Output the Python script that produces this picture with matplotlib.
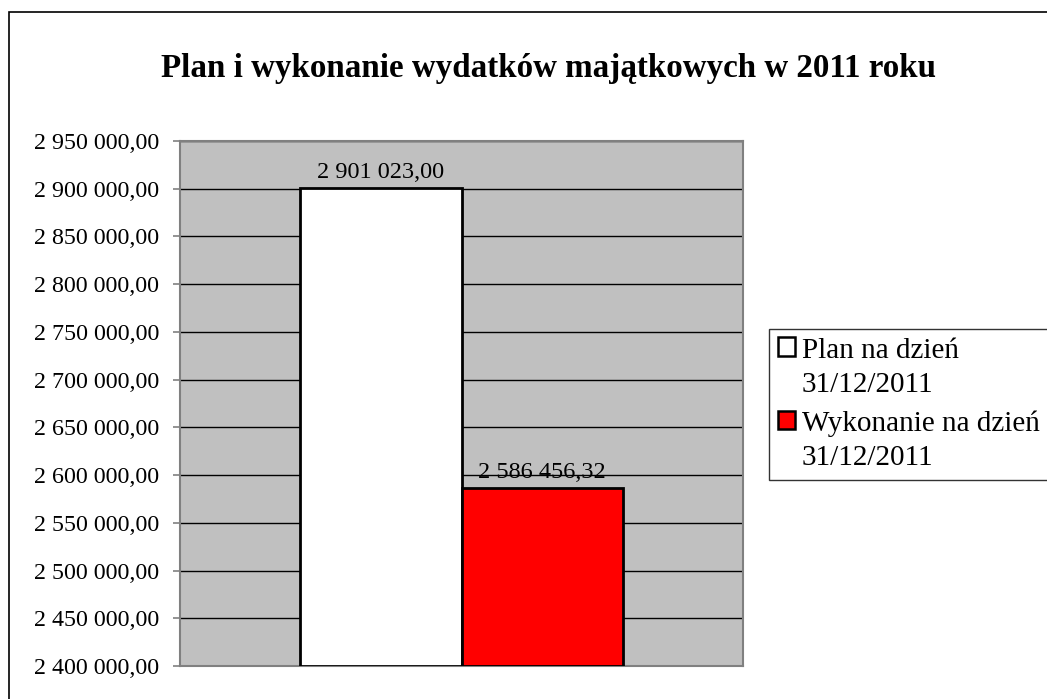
import matplotlib
matplotlib.use("Agg")
import matplotlib.pyplot as plt
from matplotlib.patches import Rectangle, Patch
from matplotlib.legend_handler import HandlerPatch

title = "Plan i wykonanie wydatków majątkowych w 2011 roku"
series_names = ["Plan na dzień\n31/12/2011", "Wykonanie na dzień\n31/12/2011"]
values = [2901023.00, 2586456.32]
colors = ["#FFFFFF", "#FF0000"]
yticks = [2400000 + 50000 * i for i in range(12)]
ymin, ymax = 2400000, 2950000

def fmt(v):
    s = f"{v:,.2f}"
    return s.replace(",", " ").replace(".", ",")

plt.rcParams['font.family'] = ['Liberation Serif', 'DejaVu Serif']

W, H = 1047, 699
fig = plt.figure(figsize=(W / 100, H / 100), dpi=100)
fig.patch.set_facecolor("white")

# outer border
fig.patches.append(Rectangle((9 / W, -0.1), 1.2, 1 - 12 / H + 0.1,
                             transform=fig.transFigure, fill=False,
                             edgecolor="black", linewidth=1.2))

ax = fig.add_axes([180 / W, (H - 666) / H, 563 / W, 525 / H])
ax.set_facecolor("#C0C0C0")
ax.set_xlim(-0.5, 0.5)
ax.set_ylim(ymin, ymax)

bw = 0.286
xs = [-bw / 2, bw / 2]
for x, v, c, n in zip(xs, values, colors, series_names):
    ax.bar(x, v - ymin, bottom=ymin, width=bw, color=c, edgecolor="black",
           linewidth=2, zorder=3, label=n)
    ax.annotate(fmt(v), (x, v), xytext=(0, 7), textcoords="offset points",
                ha="center", va="baseline", fontsize=17.5, zorder=4)

ax.set_yticks(yticks)
ax.set_yticklabels([fmt(t) for t in yticks], fontsize=17.3)
ax.set_xticks([])
ax.yaxis.grid(True, color="black", linewidth=1)
ax.set_axisbelow(True)
for s in ax.spines.values():
    s.set_color("#808080")
    s.set_linewidth(1.5)
ax.tick_params(axis="y", length=5, width=1.2, color="#808080", pad=10)

fig.text(0.5 * (160 + 937) / W, 1 - 68 / H, title, ha="center", va="center",
         fontsize=23.8, fontweight="bold")


class TopPatchHandler(HandlerPatch):
    def create_artists(self, legend, orig_handle, xdescent, ydescent,
                       width, height, fontsize, trans):
        shift = fontsize * 0.72
        p = Rectangle((-xdescent, -ydescent + shift), width, height,
                      facecolor=orig_handle.get_facecolor(),
                      edgecolor="black", linewidth=1.8, transform=trans)
        return [p]


handles = [Patch(facecolor=c, edgecolor="black", linewidth=1.5) for c in colors]
leg = fig.legend(handles, series_names, loc="upper left",
                 bbox_to_anchor=(769 / W, 1 - 329 / H), fontsize=21,
                 frameon=True, fancybox=False, edgecolor="black",
                 handlelength=0.58, handleheight=0.58, handletextpad=0.25,
                 borderpad=0.3, labelspacing=0.45, borderaxespad=0,
                 handler_map={Patch: TopPatchHandler()})
for t in leg.get_texts():
    t.set_linespacing(1.4)
leg.get_frame().set_linewidth(1)

fig.savefig("out.png", dpi=100)
